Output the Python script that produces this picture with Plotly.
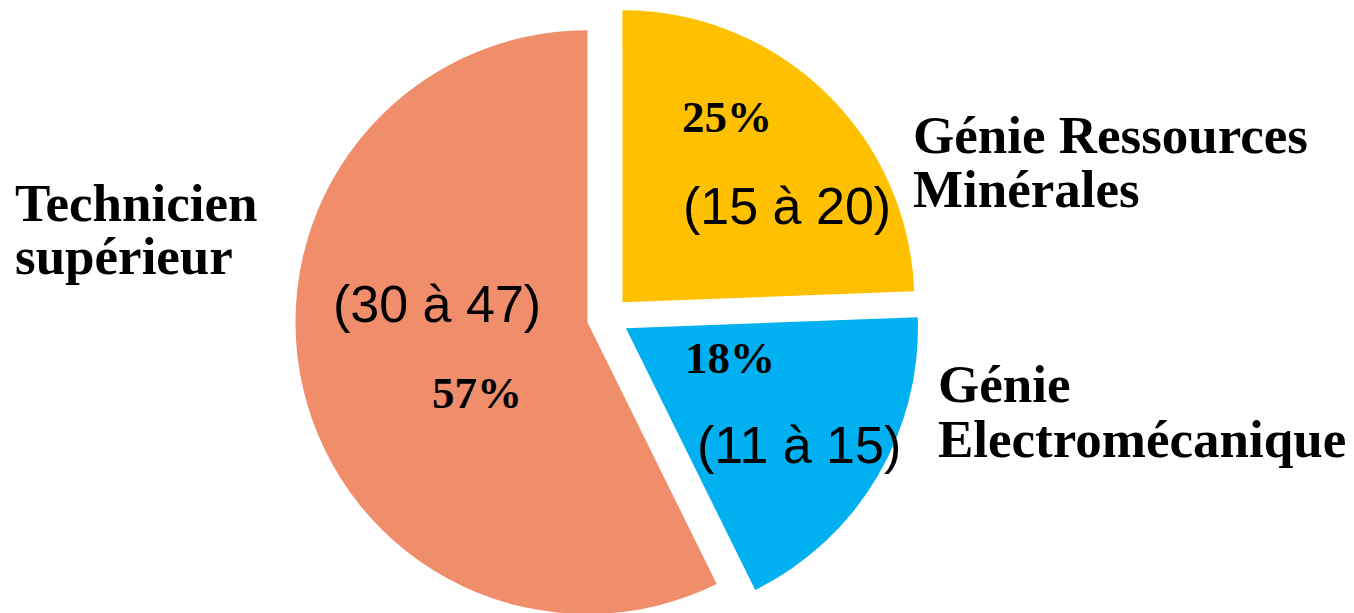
import math
import plotly.graph_objects as go

# ---- data ----
labels = ["Génie Ressources Minérales", "Génie Electromécanique", "Technicien supérieur"]
label_lines = [["Génie Ressources", "Minérales"], ["Génie", "Electromécanique"], ["Technicien", "supérieur"]]
values = [24.4, 18.3, 57.3]          # shares
pct_labels = ["25%", "18%", "57%"]
range_labels = ["(15 à 20)", "(11 à 15)", "(30 à 47)"]
colors = ["#FFC000", "#00B0F0", "#F08E6C"]

# ---- layout constants (page pixels) ----
W, H = 1354, 613
PAGE_OFF = 8              # page margin around the figure
CX, CY = 607.9, 317.4     # common centre of the pie
R = 292                   # radius
PULL = 21                 # explosion distance

fig = go.Figure()

total = sum(values)
start = 0.0
for i, v in enumerate(values):
    mid = (start + v / 2) / total * 2 * math.pi
    start += v
    cx = CX + PULL * math.sin(mid) - PAGE_OFF
    cy = CY - PULL * math.cos(mid) - PAGE_OFF
    cy = min(max(cy, R), H - R)
    slice_colors = [c if j == i else "rgba(0,0,0,0)" for j, c in enumerate(colors)]
    fig.add_trace(go.Pie(
        labels=labels, values=values, sort=False, direction="clockwise", rotation=0,
        marker=dict(colors=slice_colors, line=dict(width=0)),
        textinfo="none", hoverinfo="skip", showlegend=False,
        domain=dict(x=[(cx - R) / W, (cx + R) / W], y=[1 - (cy + R) / H, 1 - (cy - R) / H]),
    ))

SERIF = "Liberation Serif"
SANS = "Liberation Sans"

def px_ann(text, x, y, family, size, bold=False):
    fig.add_annotation(
        text=f"<b>{text}</b>" if bold else text,
        x=(x - PAGE_OFF) / W, y=1 - (y - PAGE_OFF) / H, xref="paper", yref="paper",
        xanchor="left", yanchor="middle", showarrow=False,
        font=dict(family=family, size=size, color="black"),
    )

# outer category labels (left x, vertical middle in page px)
outer_pos = [[(911, 135.1), (911, 189.1)], [(936, 383.8), (936, 438.8)], [(13, 203.1), (13, 256.1)]]
for lines, pos in zip(label_lines, outer_pos):
    for t, (x, y) in zip(lines, pos):
        px_ann(t, x, y, SERIF, 53, bold=True)

pct_pos = [(679.7, 116.5), (683, 358.1), (429.7, 393.1)]
for t, (x, y) in zip(pct_labels, pct_pos):
    px_ann(t, x, y, SERIF, 45, bold=True)

range_pos = [(681.3, 206.3), (695.3, 445.3), (331.3, 303.7)]
for t, (x, y) in zip(range_labels, range_pos):
    px_ann(t, x, y, SANS, 52)

fig.update_layout(
    width=W, height=H, autosize=False,
    margin=dict(l=0, r=0, t=0, b=0),
    paper_bgcolor="white", plot_bgcolor="white",
)

fig.write_html("out.html")
